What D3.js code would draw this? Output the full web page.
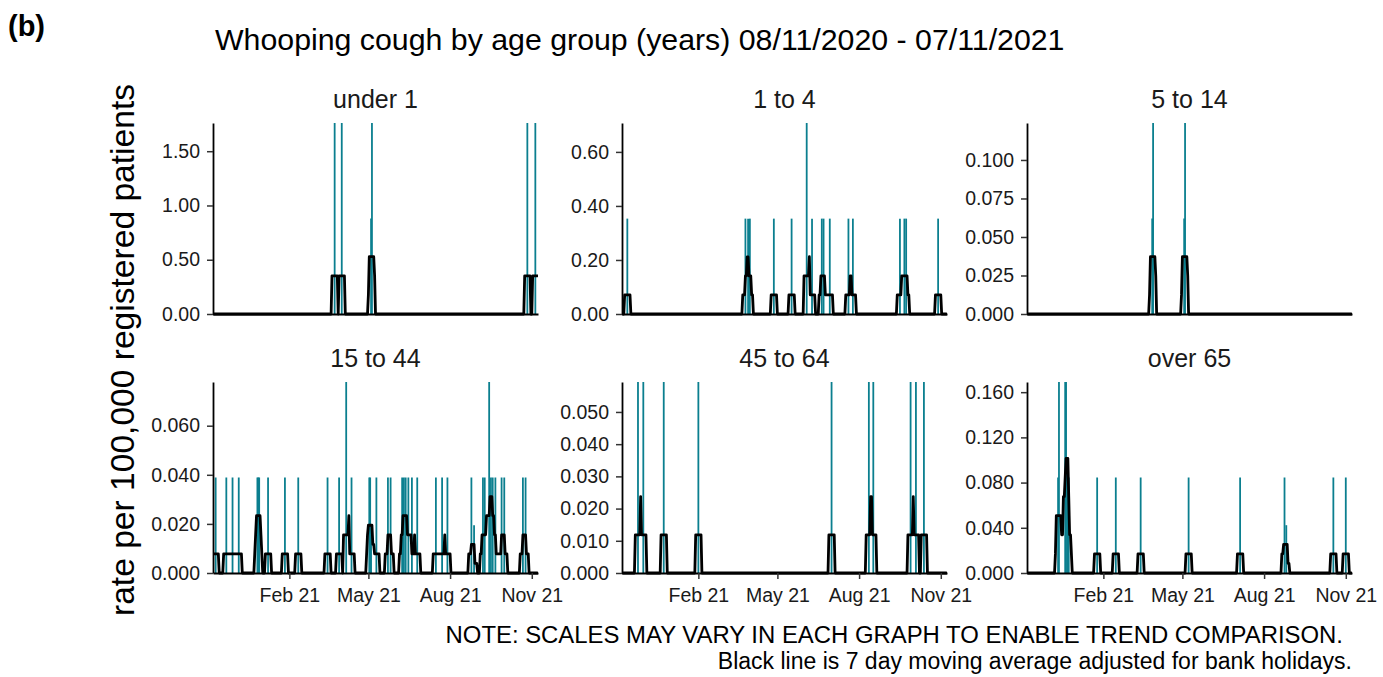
<!DOCTYPE html>
<html>
<head>
<meta charset="utf-8">
<script src="https://cdn.jsdelivr.net/npm/d3@7"></script>
<style>
  body { margin: 0; background: #fff; }
  svg text { font-family: "Liberation Sans", Arial, sans-serif; fill: #1a1a1a; }
</style>
</head>
<body>
<svg id="chart" width="1383" height="677"></svg>
<script>
// Daily whooping cough consultation rates per 100,000 registered patients, by age group.
// Only days with a non-zero rate are listed; every other day in the period is zero.
const ageGroups = ["under 1", "1 to 4", "5 to 14", "15 to 44", "45 to 64", "over 65"];

const ratesUnder1 = [
  ["2021-03-24", 1.76], ["2021-04-01", 1.76], ["2021-05-04", 0.88], ["2021-05-05", 1.76],
  ["2021-10-27", 1.76], ["2021-11-05", 1.76]
];
const rates1to4 = [
  ["2020-11-13", 0.353], ["2021-03-26", 0.353], ["2021-03-29", 0.353], ["2021-03-31", 0.353],
  ["2021-04-27", 0.353], ["2021-05-17", 0.353], ["2021-06-03", 0.707], ["2021-06-09", 0.353],
  ["2021-06-20", 0.353], ["2021-06-22", 0.353], ["2021-06-29", 0.353], ["2021-07-20", 0.353],
  ["2021-07-25", 0.353], ["2021-09-16", 0.353], ["2021-09-21", 0.353], ["2021-09-23", 0.353],
  ["2021-10-29", 0.353]
];
const rates5to14 = [
  ["2021-03-28", 0.062], ["2021-03-29", 0.124], ["2021-05-03", 0.062], ["2021-05-04", 0.124]
];
const rates15to44 = [
  ["2020-11-10", 0.0389], ["2020-11-22", 0.0389], ["2020-11-29", 0.0389], ["2020-12-06", 0.0389],
  ["2020-12-27", 0.0389], ["2020-12-28", 0.0389], ["2020-12-29", 0.0389], ["2021-01-08", 0.0389],
  ["2021-01-27", 0.0389], ["2021-02-11", 0.0389], ["2021-03-16", 0.0389], ["2021-03-29", 0.0389],
  ["2021-04-06", 0.0778], ["2021-04-12", 0.0389], ["2021-05-02", 0.0389], ["2021-05-03", 0.0389],
  ["2021-05-04", 0.0195], ["2021-05-10", 0.0389], ["2021-05-23", 0.0389], ["2021-05-26", 0.0389],
  ["2021-06-08", 0.0389], ["2021-06-10", 0.0389], ["2021-06-12", 0.0389], ["2021-06-15", 0.0389],
  ["2021-06-19", 0.0389], ["2021-06-25", 0.0389], ["2021-07-16", 0.0389], ["2021-07-23", 0.0389],
  ["2021-07-29", 0.0389], ["2021-08-25", 0.0389], ["2021-08-28", 0.0195], ["2021-09-07", 0.0389],
  ["2021-09-09", 0.0389], ["2021-09-14", 0.0778], ["2021-09-16", 0.0389], ["2021-09-18", 0.0389],
  ["2021-09-21", 0.0389], ["2021-09-28", 0.0389], ["2021-10-01", 0.0389], ["2021-10-22", 0.0389],
  ["2021-10-25", 0.0389]
];
const rates45to64 = [
  ["2020-11-25", 0.0593], ["2020-12-01", 0.0593], ["2020-12-24", 0.0593], ["2021-02-01", 0.0593],
  ["2021-07-01", 0.0593], ["2021-08-12", 0.0593], ["2021-08-17", 0.0593], ["2021-09-28", 0.0593],
  ["2021-10-04", 0.0593], ["2021-10-13", 0.0593]
];
const ratesOver65 = [
  ["2020-12-12", 0.0845], ["2020-12-13", 0.169], ["2020-12-20", 0.169], ["2020-12-21", 0.169],
  ["2020-12-23", 0.0845], ["2020-12-24", 0.0845], ["2021-01-25", 0.0845], ["2021-02-15", 0.0845],
  ["2021-03-15", 0.0845], ["2021-05-08", 0.0845], ["2021-07-05", 0.0845], ["2021-08-24", 0.0845],
  ["2021-08-26", 0.0423], ["2021-10-18", 0.0845], ["2021-11-01", 0.0845]
];

// y-axis tick values for each facet
const ticksUnder1 = [0, 0.5, 1.0, 1.5];
const ticks1to4 = [0, 0.2, 0.4, 0.6];
const ticks5to14 = [0, 0.025, 0.05, 0.075, 0.1];
const ticks15to44 = [0, 0.02, 0.04, 0.06];
const ticks45to64 = [0, 0.01, 0.02, 0.03, 0.04, 0.05];
const ticksOver65 = [0, 0.04, 0.08, 0.12, 0.16];
const tickFormats = [".2f", ".2f", ".3f", ".3f", ".3f", ".3f"];

// x-axis ticks (bottom row only)
const xTickDates = ["2021-02-01", "2021-05-01", "2021-08-01", "2021-11-01"];

const periodStart = "2020-11-08";
const periodEnd = "2021-11-07";

// ---- layout ----
const svg = d3.select("#chart");
const parse = d3.utcParse("%Y-%m-%d");
const panelW = 325, panelH = 191;
const colX = [213, 622, 1027];
const rowY = [123, 382];
const teal = "#0b7f8f";

const allRates = [ratesUnder1, rates1to4, rates5to14, rates15to44, rates45to64, ratesOver65];
const allTicks = [ticksUnder1, ticks1to4, ticks5to14, ticks15to44, ticks45to64, ticksOver65];

const start = parse(periodStart), end = parse(periodEnd);
const days = d3.utcDay.range(start, d3.utcDay.offset(end, 1));

const x = d3.scaleUtc()
  .domain([d3.utcDay.offset(start, -1), d3.utcDay.offset(end, 1)])
  .range([0, panelW]);

svg.append("defs").append("clipPath").attr("id", "panel-clip")
  .append("rect").attr("x", 0).attr("y", -4).attr("width", panelW).attr("height", panelH + 8);

ageGroups.forEach((name, i) => {
  const col = i % 3, row = Math.floor(i / 3);
  const g = svg.append("g").attr("transform", `translate(${colX[col]},${rowY[row]})`);

  const byDay = new Map(allRates[i].map(([d, v]) => [+parse(d), v]));
  const daily = days.map(d => ({ date: d, v: byDay.get(+d) || 0 }));
  // centred 7-day window, averaged over the 5 working days of a week
  const avg = daily.map((d, k) => ({
    date: d.date,
    v: d3.sum(daily.slice(Math.max(0, k - 3), k + 4), e => e.v) / 5
  }));

  const yMax = d3.max(allRates[i], r => r[1]);
  const y = d3.scaleLinear().domain([0, yMax]).range([panelH, 0]);

  const plot = g.append("g").attr("clip-path", "url(#panel-clip)");

  // daily rates as thin bars
  plot.selectAll("line.day")
    .data(daily.filter(d => d.v > 0))
    .join("line")
    .attr("class", "day")
    .attr("x1", d => x(d.date)).attr("x2", d => x(d.date))
    .attr("y1", y(0)).attr("y2", d => y(d.v))
    .attr("stroke", teal).attr("stroke-width", 1.8);

  // 7-day moving average
  plot.append("path")
    .datum(avg)
    .attr("fill", "none")
    .attr("stroke", "#000")
    .attr("stroke-width", 2.8)
    .attr("stroke-linejoin", "round")
    .attr("stroke-linecap", "round")
    .attr("d", d3.line().x(d => x(d.date)).y(d => y(d.v)));

  // y axis
  const gy = g.append("g")
    .call(d3.axisLeft(y).tickValues(allTicks[i]).tickFormat(d3.format(tickFormats[i]))
      .tickSize(6).tickSizeOuter(0).tickPadding(7));
  gy.select(".domain").attr("stroke", "#000").attr("stroke-width", 1.8);
  gy.selectAll(".tick line").attr("stroke", "#333").attr("stroke-width", 1.5);
  gy.selectAll(".tick text").attr("font-size", 19.5).attr("fill", "#1a1a1a")
    .attr("font-family", "Liberation Sans, Arial, sans-serif");

  // x axis
  const gx = g.append("g").attr("transform", `translate(0,${panelH})`);
  if (row === 1) {
    gx.call(d3.axisBottom(x).tickValues(xTickDates.map(parse))
      .tickFormat(d3.utcFormat("%b %y")).tickSize(6).tickSizeOuter(0).tickPadding(9));
    gx.selectAll(".tick line").attr("stroke", "#333").attr("stroke-width", 1.5);
    gx.selectAll(".tick text").attr("font-size", 19.5).attr("fill", "#1a1a1a")
      .attr("font-family", "Liberation Sans, Arial, sans-serif");
  } else {
    gx.call(d3.axisBottom(x).tickValues([]).tickSize(0).tickSizeOuter(0));
  }
  gx.select(".domain").attr("stroke", "#000").attr("stroke-width", 1.8);

  // facet strip label
  g.append("text")
    .attr("x", panelW / 2).attr("y", -15)
    .attr("text-anchor", "middle")
    .attr("font-size", 25)
    .text(name);
});

// titles and notes
svg.append("text").attr("x", 8).attr("y", 36)
  .attr("font-size", 29).attr("font-weight", "bold").style("fill", "#000").text("(b)");

svg.append("text").attr("x", 215).attr("y", 50)
  .attr("font-size", 30.3).style("fill", "#000")
  .text("Whooping cough by age group (years) 08/11/2020 - 07/11/2021");

svg.append("text")
  .attr("transform", "translate(134,350) rotate(-90)")
  .attr("text-anchor", "middle")
  .attr("font-size", 33.6).style("fill", "#000")
  .text("rate per 100,000 registered patients");

svg.append("text").attr("x", 1343).attr("y", 643)
  .attr("text-anchor", "end").attr("font-size", 23.9).style("fill", "#000")
  .text("NOTE: SCALES MAY VARY IN EACH GRAPH TO ENABLE TREND COMPARISON.");

svg.append("text").attr("x", 1352).attr("y", 669)
  .attr("text-anchor", "end").attr("font-size", 23).style("fill", "#000")
  .text("Black line is 7 day moving average adjusted for bank holidays.");
</script>
</body>
</html>
